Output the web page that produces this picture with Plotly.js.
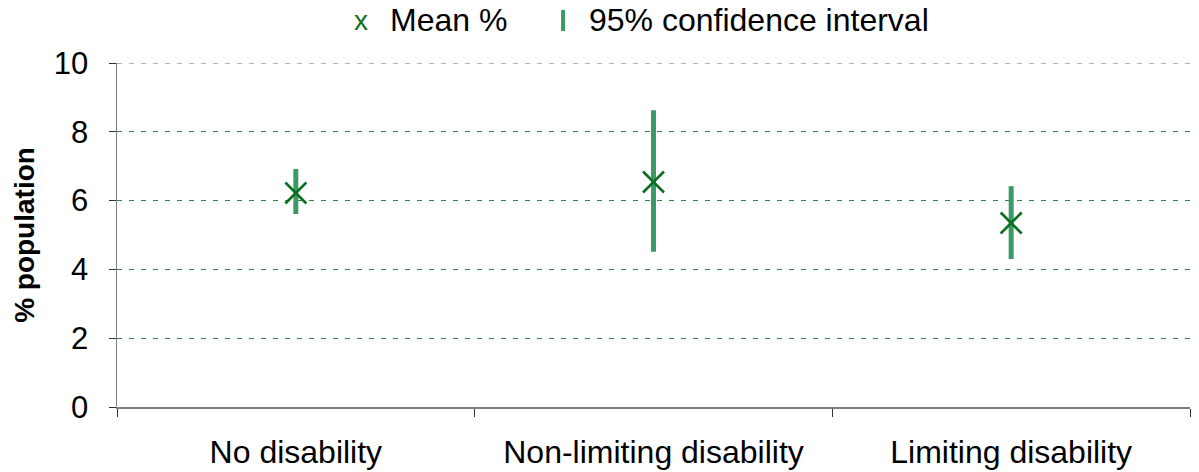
<!DOCTYPE html>
<html>
<head>
<meta charset="utf-8">
<script src="https://cdn.plot.ly/plotly-3.0.1.min.js"></script>
<style>html,body{margin:0;padding:0;background:#fff;}#chart{width:1199px;height:472px;}</style>
</head>
<body>
<div id="chart"></div>
<script>
const categories = ["No disability", "Non-limiting disability", "Limiting disability"];
const meanPct = [6.22, 6.54, 5.35];
const ciLow = [5.61, 4.51, 4.30];
const ciHigh = [6.92, 8.63, 6.42];
const yTicks = [0, 2, 4, 6, 8, 10];

const errPlus = meanPct.map((m, i) => ciHigh[i] - m);
const errMinus = meanPct.map((m, i) => m - ciLow[i]);
const yMax = yTicks[yTicks.length - 1];

const trace = {
  x: categories,
  y: meanPct,
  type: "scatter",
  mode: "markers",
  name: "Mean %",
  marker: {symbol: "x-thin", size: 21, color: "#0e6e22", line: {color: "#0e6e22", width: 2.6}},
  error_y: {type: "data", symmetric: false, array: errPlus, arrayminus: errMinus,
            color: "#3a9b68", thickness: 5, width: 0},
  showlegend: false,
  hoverinfo: "skip"
};

const font = {family: "Liberation Sans, Arial, sans-serif", color: "#000"};
const gridColor = "#2e8b3e";
const gridDash = "5px,7px";

const layout = {
  width: 1199, height: 472,
  margin: {l: 117, r: 9, t: 63, b: 65},
  paper_bgcolor: "#fff", plot_bgcolor: "#fff",
  showlegend: false,
  font: Object.assign({size: 32}, font),
  xaxis: {
    type: "category",
    range: [-0.5, 2.5],
    tickson: "boundaries",
    ticks: "outside", ticklen: 8, tickwidth: 1, tickcolor: "#333",
    showline: true, linecolor: "#7f7f7f", linewidth: 1.5,
    showgrid: false, zeroline: false,
    ticklabelstandoff: 16,
    tickfont: Object.assign({size: 32}, font),
    fixedrange: true
  },
  yaxis: {
    range: [0, yMax],
    tickvals: yTicks,
    ticktext: yTicks.map(String),
    ticks: "outside", ticklen: 7, tickwidth: 1, tickcolor: "#333",
    showline: true, linecolor: "#7f7f7f", linewidth: 1.5,
    showgrid: true, gridcolor: gridColor, griddash: gridDash, gridwidth: 1,
    zeroline: false,
    ticklabelstandoff: 14,
    tickfont: Object.assign({size: 31}, font),
    title: {text: "<b>% population</b>", font: Object.assign({size: 28}, font), standoff: 11},
    fixedrange: true
  },
  annotations: [
    {xref: "paper", yref: "paper", x: 0.219, y: 1.125, xanchor: "left", yanchor: "middle",
     text: "x", showarrow: false, font: Object.assign({}, font, {size: 28, color: "#0e6e22"})},
    {xref: "paper", yref: "paper", x: 0.2526, y: 1.125, xanchor: "left", yanchor: "middle",
     text: "Mean %", showarrow: false, font: Object.assign({size: 32}, font)},
    {xref: "paper", yref: "paper", x: 0.438, y: 1.125, xanchor: "left", yanchor: "middle",
     text: "95% confidence interval", showarrow: false, font: Object.assign({size: 32}, font)}
  ],
  shapes: [
    {type: "line", xref: "paper", yref: "y", x0: 0, x1: 1, y0: yMax, y1: yMax, layer: "below",
     line: {color: gridColor, width: 1, dash: gridDash}},
    {type: "line", xref: "paper", yref: "paper", x0: 0.4157, x1: 0.4157, y0: 1.093, y1: 1.154,
     line: {color: "#3a9b68", width: 4}}
  ]
};

Plotly.newPlot("chart", [trace], layout, {displayModeBar: false, staticPlot: true});
</script>
</body>
</html>
